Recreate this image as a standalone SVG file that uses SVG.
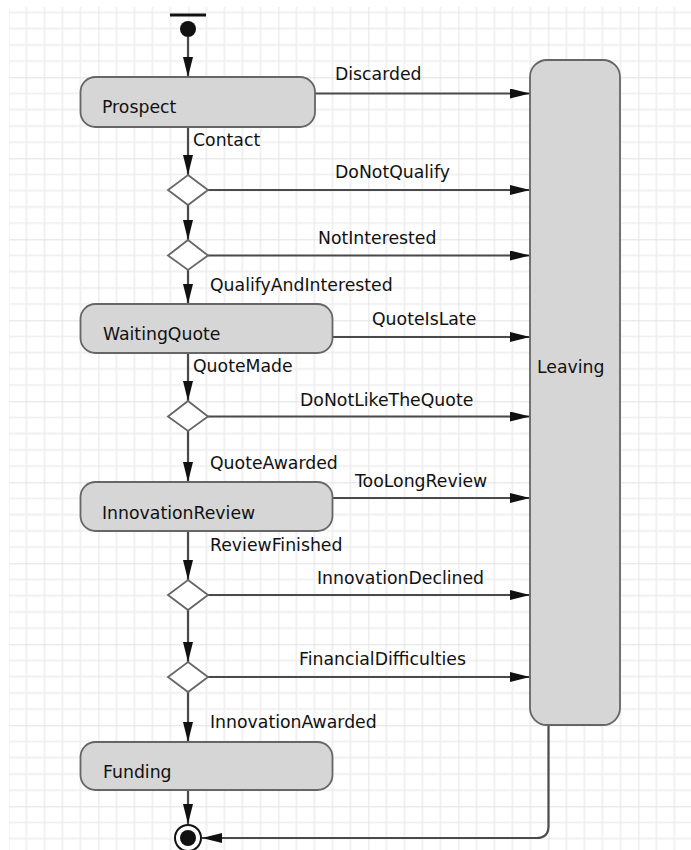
<svg xmlns="http://www.w3.org/2000/svg" width="691" height="850" viewBox="0 0 691 850">
<defs>
<pattern id="grid" patternUnits="userSpaceOnUse" x="8.4" y="-3.7" width="90" height="81">
<g stroke="#eeeeee" stroke-width="1.6" fill="none">
<path d="M18,0V81M36,0V81M54,0V81M72,0V81M0,16.2H90M0,32.4H90M0,48.6H90M0,64.8H90"/>
</g>
<g stroke="#e2e2e2" stroke-width="1.8" fill="none">
<path d="M0,0V81M0,0H90"/>
</g>
</pattern>
<marker id="arr" markerUnits="userSpaceOnUse" markerWidth="20" markerHeight="10" refX="20" refY="5" orient="auto">
<path d="M0,0 L20,5 L0,10 z" fill="#111"/>
</marker>
<style>
.state{fill:#d6d6d6;stroke:#666;stroke-width:1.8}
.dec{fill:#fff;stroke:#666;stroke-width:1.8}
.conn{fill:none;stroke:#4a4a4a;stroke-width:2.2;marker-end:url(#arr)}
text{font-family:"DejaVu Sans",Verdana,sans-serif;font-size:17.3px;fill:#111}
</style>
</defs>
<rect width="691" height="850" fill="#fff"/>
<rect x="9" y="7" width="682" height="843" fill="url(#grid)"/>

<g id="connectors">
<path class="conn" d="M188,37V77"/>
<path class="conn" d="M315,93.5H530"/>
<path class="conn" d="M188,127V175"/>
<path class="conn" d="M208,190H530"/>
<path class="conn" d="M188,205V240"/>
<path class="conn" d="M208,255.5H530"/>
<path class="conn" d="M188,270V304"/>
<path class="conn" d="M332,337H530"/>
<path class="conn" d="M188,353V401"/>
<path class="conn" d="M208,416.5H530"/>
<path class="conn" d="M188,431V482"/>
<path class="conn" d="M332,498H530"/>
<path class="conn" d="M188,531V580"/>
<path class="conn" d="M208,595H530"/>
<path class="conn" d="M188,610V662"/>
<path class="conn" d="M208,677H530"/>
<path class="conn" d="M188,692V742"/>
<path class="conn" d="M188,790V824"/>
<path class="conn" d="M548.5,725V826Q548.5,838 536.5,838H202"/>
<text x="335" y="80">Discarded</text>
<text x="193" y="146">Contact</text>
<text x="335" y="178">DoNotQualify</text>
<text x="318" y="244">NotInterested</text>
<text x="210" y="291">QualifyAndInterested</text>
<text x="372" y="325">QuoteIsLate</text>
<text x="193" y="372">QuoteMade</text>
<text x="300" y="406">DoNotLikeTheQuote</text>
<text x="210" y="469">QuoteAwarded</text>
<text x="355" y="487">TooLongReview</text>
<text x="210" y="551">ReviewFinished</text>
<text x="317" y="584">InnovationDeclined</text>
<text x="299" y="665">FinancialDifficulties</text>
<text x="210" y="728">InnovationAwarded</text>
</g>

<g id="initial">
<rect x="170" y="13.5" width="36" height="3" fill="#111"/>
<circle cx="188" cy="29" r="8" fill="#111"/>
</g>
<g id="prospect">
<rect class="state" x="80.5" y="77" width="234.5" height="50" rx="15" ry="15"/>
<text x="102" y="113">Prospect</text>
</g>
<g id="d1"><path class="dec" d="M188,175L208,190L188,205L168,190Z"/></g>
<g id="d2"><path class="dec" d="M188,240L208,255.5L188,270L168,255.5Z"/></g>
<g id="waitingquote">
<rect class="state" x="80.5" y="304" width="252" height="49" rx="15" ry="15"/>
<text x="103" y="340">WaitingQuote</text>
</g>
<g id="d3"><path class="dec" d="M188,401L208,416.5L188,431L168,416.5Z"/></g>
<g id="innovationreview">
<rect class="state" x="80.5" y="482" width="252" height="49" rx="15" ry="15"/>
<text x="102" y="519">InnovationReview</text>
</g>
<g id="d4"><path class="dec" d="M188,580L208,595L188,610L168,595Z"/></g>
<g id="d5"><path class="dec" d="M188,662L208,677L188,692L168,677Z"/></g>
<g id="funding">
<rect class="state" x="80.5" y="742" width="252" height="48" rx="15" ry="15"/>
<text x="103" y="778">Funding</text>
</g>
<g id="leaving">
<rect class="state" x="530" y="60" width="90" height="665" rx="17" ry="17"/>
<text x="537" y="373">Leaving</text>
</g>
<g id="final">
<circle cx="188" cy="838" r="13" fill="#fff" stroke="#111" stroke-width="2"/>
<circle cx="188" cy="838" r="8" fill="#111"/>
</g>
</svg>
